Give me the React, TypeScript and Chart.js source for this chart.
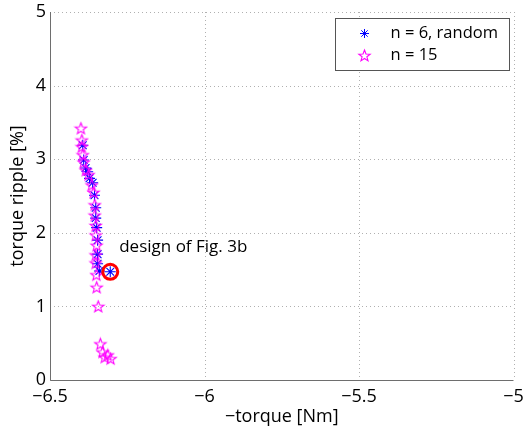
import React, { useEffect, useRef } from "react";
import { Chart, registerables } from "chart.js";
Chart.register(...registerables);

// n = 6, random (blue asterisks)
const blueX = [-6.394, -6.391, -6.385, -6.378, -6.372, -6.362, -6.356, -6.352, -6.352, -6.349, -6.346, -6.346, -6.346, -6.340, -6.305];
const blueY = [3.19, 2.99, 2.88, 2.83, 2.74, 2.68, 2.51, 2.34, 2.20, 2.07, 1.90, 1.71, 1.58, 1.48, 1.47];
// n = 15 (magenta pentagrams)
const magentaX = [-6.400, -6.397, -6.397, -6.394, -6.391, -6.384, -6.375, -6.365, -6.359, -6.355, -6.355, -6.352, -6.352, -6.349, -6.352, -6.352, -6.350, -6.349, -6.344, -6.337, -6.330, -6.323, -6.313, -6.304];
const magentaY = [3.42, 3.26, 3.17, 3.06, 2.96, 2.85, 2.79, 2.65, 2.55, 2.38, 2.24, 2.10, 1.97, 1.83, 1.70, 1.59, 1.43, 1.26, 1.00, 0.49, 0.38, 0.31, 0.34, 0.29];
// highlighted design
const highlightX = [-6.305];
const highlightY = [1.47];

const xMin = -6.5, xMax = -5, xStep = 0.5;
const yMin = 0, yMax = 5, yStep = 1;
const legendLabels = ["n = 6, random", "n = 15"];
const annotationText = "design of Fig. 3b";
const annotationAt = { x: -6.276, y: 1.80 };
const xTitle = "\u2212torque [Nm]";
const yTitle = "torque ripple [%]";

const FONT = "'Open Sans', 'DejaVu Sans', sans-serif";
const BLUE = "#0000ff";
const MAGENTA = "#ff00ff";

function makeStar(color: string, r: number) {
  const c = document.createElement("canvas");
  const s = Math.ceil(2 * r + 3);
  c.width = s;
  c.height = s;
  const ctx = c.getContext("2d")!;
  const cx = s / 2, cy = s / 2 + 0.5;
  const ri = r * 0.42;
  ctx.beginPath();
  for (let i = 0; i < 10; i++) {
    const rr = i % 2 === 0 ? r : ri;
    const a = -Math.PI / 2 + (i * Math.PI) / 5;
    const px = cx + rr * Math.cos(a);
    const py = cy + rr * Math.sin(a);
    if (i === 0) ctx.moveTo(px, py);
    else ctx.lineTo(px, py);
  }
  ctx.closePath();
  ctx.strokeStyle = color;
  ctx.lineWidth = 1.1;
  ctx.stroke();
  return c;
}

function fmt(v: number) {
  const n = Number(v.toFixed(1));
  return String(n).replace("-", "\u2212");
}

export default function App() {
  const ref = useRef<HTMLCanvasElement>(null);
  useEffect(() => {
    const star = makeStar(MAGENTA, 6);
    const blueData = blueX.map((x, i) => ({ x, y: blueY[i] }));
    const magData = magentaX.map((x, i) => ({ x, y: magentaY[i] }));
    const hiData = highlightX.map((x, i) => ({ x, y: highlightY[i] }));

    const gridPlugin = {
      id: "matlabGrid",
      beforeDatasetsDraw(chart: any) {
        const { ctx, chartArea: a, scales } = chart;
        ctx.save();
        ctx.strokeStyle = "#b0b0b0";
        ctx.lineWidth = 1;
        ctx.setLineDash([1, 3]);
        for (let v = xMin; v <= xMax + 1e-9; v += xStep) {
          const px = Math.round(scales.x.getPixelForValue(v)) + 0.5;
          ctx.beginPath();
          ctx.moveTo(px, a.top);
          ctx.lineTo(px, a.bottom);
          ctx.stroke();
        }
        for (let v = yMin; v <= yMax + 1e-9; v += yStep) {
          const py = Math.round(scales.y.getPixelForValue(v)) + 0.5;
          ctx.beginPath();
          ctx.moveTo(a.left, py);
          ctx.lineTo(a.right, py);
          ctx.stroke();
        }
        ctx.setLineDash([]);
        ctx.strokeStyle = "#6e6e6e";
        ctx.lineWidth = 1;
        const l = Math.round(a.left) + 0.5;
        const b = Math.round(a.bottom) + 0.5;
        ctx.beginPath();
        ctx.moveTo(l, a.top);
        ctx.lineTo(l, b);
        ctx.lineTo(a.right, b);
        ctx.stroke();
        ctx.restore();
      },
      afterDatasetsDraw(chart: any) {
        const { ctx, chartArea: a, scales } = chart;
        ctx.save();
        // annotation
        ctx.font = `17px ${FONT}`;
        ctx.fillStyle = "#000";
        ctx.textAlign = "left";
        ctx.textBaseline = "middle";
        ctx.fillText(annotationText, scales.x.getPixelForValue(annotationAt.x), scales.y.getPixelForValue(annotationAt.y));
        // legend
        const bw = 174, bh = 52;
        const bx = Math.round(a.right - 5 - bw) + 0.5;
        const by = Math.round(a.top + 6) + 0.5;
        ctx.fillStyle = "#fff";
        ctx.fillRect(bx, by, bw, bh);
        ctx.strokeStyle = "#555";
        ctx.lineWidth = 1;
        ctx.strokeRect(bx, by, bw, bh);
        const row1 = by + 15, row2 = by + 37;
        const symX = bx + 29;
        // blue asterisk
        ctx.strokeStyle = BLUE;
        ctx.lineWidth = 1;
        const r = 4.5;
        ctx.beginPath();
        for (let k = 0; k < 4; k++) {
          const ang = (k * Math.PI) / 4;
          ctx.moveTo(symX - r * Math.cos(ang), row1 - r * Math.sin(ang));
          ctx.lineTo(symX + r * Math.cos(ang), row1 + r * Math.sin(ang));
        }
        ctx.stroke();
        ctx.drawImage(star, symX - star.width / 2, row2 - star.height / 2);
        ctx.fillStyle = "#000";
        ctx.font = `16.5px ${FONT}`;
        ctx.textBaseline = "middle";
        ctx.fillText(legendLabels[0], bx + 55, row1);
        ctx.fillText(legendLabels[1], bx + 55, row2);
        ctx.restore();
      },
    };

    const chart = new Chart(ref.current!, {
      type: "scatter",
      data: {
        datasets: [
          {
            label: "highlight",
            data: hiData,
            pointStyle: "circle",
            pointRadius: 7.5,
            borderColor: "#ff0000",
            borderWidth: 3,
            backgroundColor: "rgba(0,0,0,0)",
          },
          {
            label: legendLabels[1],
            data: magData,
            pointStyle: star as any,
            pointRadius: 6,
          },
          {
            label: legendLabels[0],
            data: blueData,
            pointStyle: "star",
            pointRadius: 5.5,
            borderColor: BLUE,
            borderWidth: 1.1,
            backgroundColor: BLUE,
          },
        ],
      },
      options: {
        animation: false,
        responsive: false,
        devicePixelRatio: 1,
        layout: { padding: { top: 12, right: 6, left: 0, bottom: 0 } },
        plugins: { legend: { display: false }, tooltip: { enabled: false } },
        scales: {
          x: {
            type: "linear",
            min: xMin,
            max: xMax,
            grid: { display: false, drawTicks: false },
            border: { display: false },
            ticks: {
              stepSize: xStep,
              padding: 6,
              color: "#000",
              font: { family: FONT, size: 18 },
              callback: (v: any) => fmt(Number(v)),
              maxRotation: 0,
            },
            title: {
              display: true,
              text: xTitle,
              color: "#000",
              font: { family: FONT, size: 18 },
              padding: { top: 0, bottom: 1 },
            },
            afterFit(scale: any) {
              scale.height = 49;
              scale.paddingLeft = 0;
              scale.paddingRight = 0;
            },
          },
          y: {
            type: "linear",
            min: yMin,
            max: yMax,
            grid: { display: false, drawTicks: false },
            border: { display: false },
            ticks: {
              stepSize: yStep,
              padding: 4,
              color: "#000",
              font: { family: FONT, size: 18 },
              callback: (v: any) => fmt(Number(v)),
            },
            title: {
              display: true,
              text: yTitle,
              color: "#000",
              font: { family: FONT, size: 18 },
              padding: { top: 7, bottom: 0 },
            },
            afterFit(scale: any) {
              scale.width = 50;
              scale.paddingTop = 0;
              scale.paddingBottom = 0;
            },
          },
        },
      },
      plugins: [gridPlugin],
    } as any);
    return () => chart.destroy();
  }, []);

  return (
    <div style={{ position: "fixed", left: 0, top: 0, width: 524, height: 429, background: "#fff" }}>
      <canvas ref={ref} width={524} height={429} style={{ display: "block" }} />
    </div>
  );
}
